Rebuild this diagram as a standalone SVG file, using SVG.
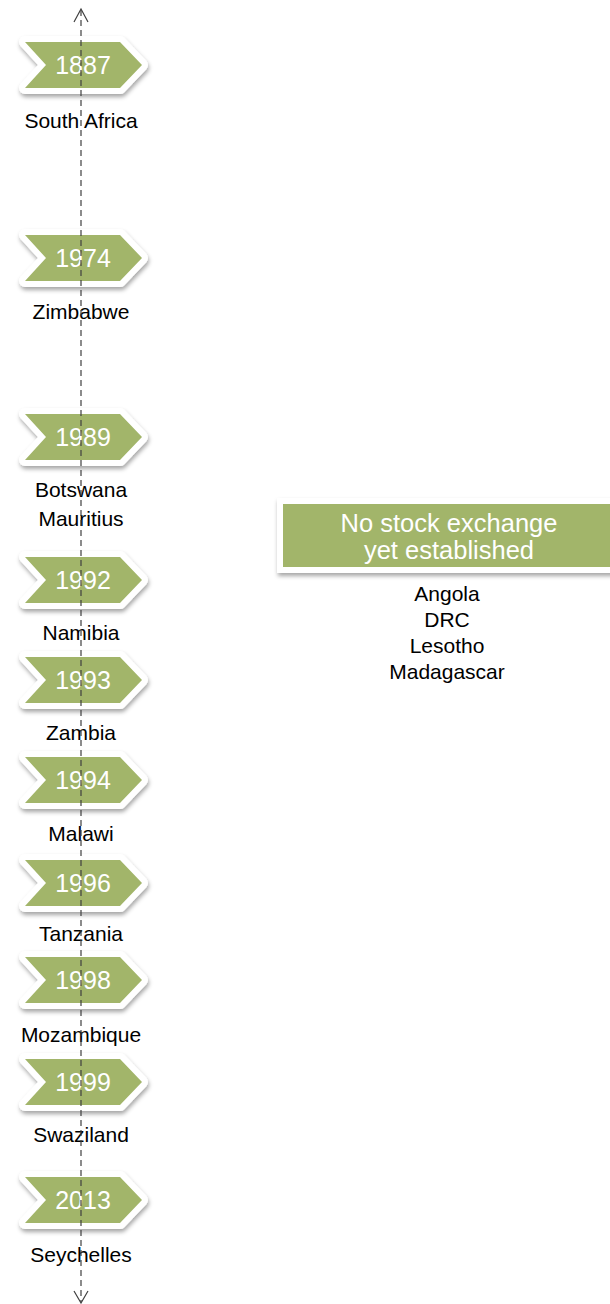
<svg xmlns="http://www.w3.org/2000/svg" xmlns:xlink="http://www.w3.org/1999/xlink" width="610" height="1304" viewBox="0 0 610 1304">
<style>
.yr{font-family:"Liberation Sans",Arial,sans-serif;font-size:25px;fill:#ffffff;text-anchor:middle}
.lb{font-family:"Liberation Sans",Arial,sans-serif;font-size:21px;fill:#000000;text-anchor:middle}
.bx{font-family:"Liberation Sans",Arial,sans-serif;font-size:25.5px;fill:#ffffff;text-anchor:middle}
.line{stroke:#404040;stroke-width:1.2;fill:none}
</style>
<defs>
<filter id="sh" x="-20%" y="-30%" width="140%" height="170%">
<feDropShadow dx="1" dy="3" stdDeviation="2" flood-color="#000" flood-opacity="0.35"/>
</filter>
<g id="chev">
<polygon points="25,-23 120,-23 142,0 120,23 25,23 46,0" fill="#fff" stroke="#fff" stroke-width="12" stroke-linejoin="round" filter="url(#sh)"/>
<polygon points="25,-23 120,-23 142,0 120,23 25,23 46,0" fill="#a2b56a"/>
</g>
</defs>
<g id="n1887" transform="translate(0,65)"><use xlink:href="#chev"/><text class="yr" x="83" y="9">1887</text><text class="lb" x="81" y="63">South Africa</text></g>
<g id="n1974" transform="translate(0,258)"><use xlink:href="#chev"/><text class="yr" x="83" y="9">1974</text><text class="lb" x="81" y="61">Zimbabwe</text></g>
<g id="n1989" transform="translate(0,437)"><use xlink:href="#chev"/><text class="yr" x="83" y="9">1989</text><text class="lb" x="81" y="60">Botswana</text><text class="lb" x="81" y="89">Mauritius</text></g>
<g id="n1992" transform="translate(0,580)"><use xlink:href="#chev"/><text class="yr" x="83" y="9">1992</text><text class="lb" x="81" y="60">Namibia</text></g>
<g id="n1993" transform="translate(0,680)"><use xlink:href="#chev"/><text class="yr" x="83" y="9">1993</text><text class="lb" x="81" y="60">Zambia</text></g>
<g id="n1994" transform="translate(0,780)"><use xlink:href="#chev"/><text class="yr" x="83" y="9">1994</text><text class="lb" x="81" y="61">Malawi</text></g>
<g id="n1996" transform="translate(0,883)"><use xlink:href="#chev"/><text class="yr" x="83" y="9">1996</text><text class="lb" x="81" y="58">Tanzania</text></g>
<g id="n1998" transform="translate(0,980)"><use xlink:href="#chev"/><text class="yr" x="83" y="9">1998</text><text class="lb" x="81" y="62">Mozambique</text></g>
<g id="n1999" transform="translate(0,1082)"><use xlink:href="#chev"/><text class="yr" x="83" y="9">1999</text><text class="lb" x="81" y="60">Swaziland</text></g>
<g id="n2013" transform="translate(0,1200)"><use xlink:href="#chev"/><text class="yr" x="83" y="9">2013</text><text class="lb" x="81" y="62">Seychelles</text></g>
<g id="none">
<rect x="277" y="498" width="340" height="75" fill="#fff" filter="url(#sh)"/>
<rect x="283" y="504" width="330" height="63" fill="#a2b56a"/>
<text class="bx" x="449" y="532">No stock exchange</text>
<text class="bx" x="449" y="559">yet established</text>
<text class="lb" x="447" y="601">Angola</text>
<text class="lb" x="447" y="627">DRC</text>
<text class="lb" x="447" y="653">Lesotho</text>
<text class="lb" x="447" y="679">Madagascar</text>
</g>
<g id="connectors">
<line class="line" x1="81" y1="10" x2="81" y2="1302" stroke-dasharray="6,4"/>
<polyline class="line" points="74,22 81,9 88,22"/>
<polyline class="line" points="74,1291 81,1303 88,1291"/>
</g>
</svg>
